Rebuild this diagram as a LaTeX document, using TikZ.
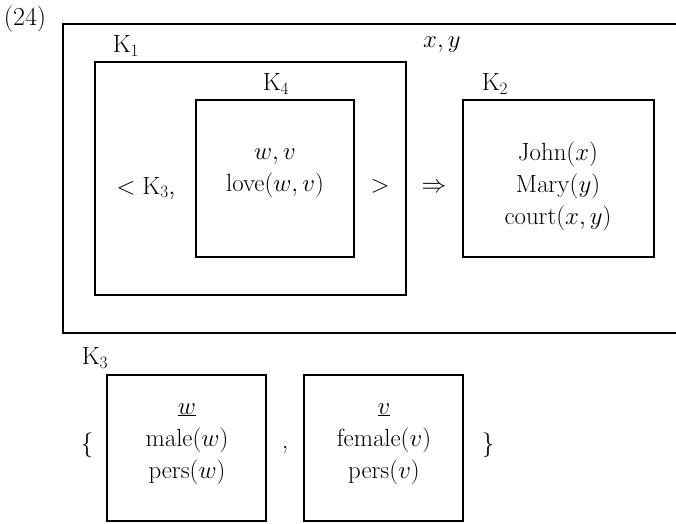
\documentclass[tikz,border=0pt]{standalone}
\begin{document}
\begin{tikzpicture}[x=1pt,y=-1pt,
  box/.style={draw,line width=1.1pt,minimum width=#1,inner sep=0pt},
  lbl/.style={inner sep=0pt,font=\fontsize{26}{32}\selectfont},
  txt/.style={inner sep=0pt,align=center,font=\fontsize{26}{32}\selectfont},
  txts/.style={inner sep=0pt,align=center,font=\fontsize{24}{32}\selectfont}]
\useasboundingbox (0,0) rectangle (676,523);
% outer box (right side cut off)
\coordinate (otr) at (676,24);
\coordinate (otl) at (63,24);
\coordinate (obl) at (63,333);
\coordinate (obr) at (676,333);
\draw[line width=1.1pt] (otr) -- (otl) -- (obl) -- (obr);
\node[lbl] (num) at (25,19) {(24)};
\node[lbl] (k1l) at (126,46) {$\mathrm{K}_1$};
\node[lbl] (xy) at (442,45) {$x,y$};
% K1
\node[box=311pt,minimum height=233pt] (k1) at (250.5,178.5) {};
\node[lbl] (k4l) at (276,84) {$\mathrm{K}_4$};
\node[box=158pt,minimum height=157pt] (k4) at (275,178.5) {};
\node[txts] (k4t) at (275,173) {$w,v$\\$\mathrm{love}(w,v)$};
\node[lbl] (k3ref) at (146,188) {$<\mathrm{K}_3,$};
\node[lbl] (gt) at (380,186) {$>$};
\node[lbl] (arr) at (434,188) {$\Rightarrow$};
% K2
\node[lbl] (k2l) at (495,84) {$\mathrm{K}_2$};
\node[box=191pt,minimum height=157pt] (k2) at (558.5,178.5) {};
\node[txt] (k2t) at (558,186) {$\mathrm{John}(x)$\\$\mathrm{Mary}(y)$\\$\mathrm{court}(x,y)$};
% K3
\node[lbl] (k3l) at (95,358) {$\mathrm{K}_3$};
\node[lbl] (lb) at (87,445) {$\{$};
\node[box=159pt,minimum height=146pt] (b1) at (186.5,448) {};
\node[txt] (b1t) at (187,444) {$\underline{w}$\\$\mathrm{male}(w)$\\$\mathrm{pers}(w)$};
\node[lbl] (cm) at (285,450) {,};
\node[box=159pt,minimum height=146pt] (b2) at (383.5,448) {};
\node[txt] (b2t) at (384,444) {$\underline{v}$\\$\mathrm{female}(v)$\\$\mathrm{pers}(v)$};
\node[lbl] (rb) at (488,445) {$\}$};
\end{tikzpicture}
\end{document}
